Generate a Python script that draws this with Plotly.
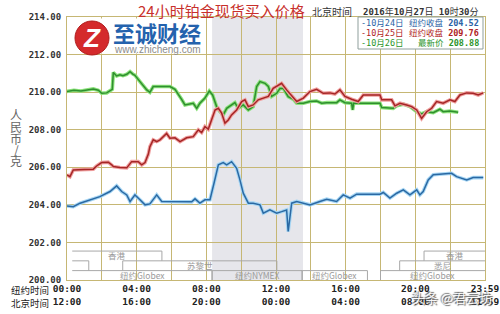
import plotly.graph_objects as go

# ---------------- data (NY time in hours, price in CNY/g) ----------------
blue_h = [0.00, 0.36, 0.75, 1.32, 1.89, 2.47, 2.85, 3.14, 3.43, 3.62, 3.90, 4.19, 4.48, 4.76, 5.15, 5.44,
          5.72, 6.09, 7.16, 7.35, 7.63, 7.92, 8.21, 8.44, 8.69, 8.97, 9.17, 9.45, 9.74, 9.93, 10.12, 10.41,
          10.69, 11.08, 11.27, 11.65, 12.04, 12.32, 12.61, 12.70, 12.90, 13.19, 13.95, 14.52, 14.91, 15.48,
          15.86, 16.25, 16.63, 17.97, 18.16, 18.54, 18.93, 19.31, 19.69, 20.08, 20.26, 20.45, 20.74, 21.03,
          21.60, 22.08, 22.37, 22.95, 23.32, 23.90]
blue_v = [203.94, 203.90, 204.09, 204.27, 204.44, 204.71, 205.01, 204.71, 204.53, 204.18, 204.53, 204.27,
          204.00, 204.05, 204.53, 204.18, 204.18, 204.16, 204.16, 204.32, 204.09, 204.27, 204.27, 205.15,
          206.13, 206.25, 206.13, 206.30, 205.95, 205.33, 204.62, 204.09, 204.09, 204.00, 203.56, 203.73,
          203.56, 203.64, 203.73, 202.58, 204.09, 204.18, 204.00, 204.18, 204.30, 204.18, 204.53, 204.36,
          204.57, 204.57, 204.66, 204.36, 204.62, 204.80, 204.53, 204.80, 204.53, 204.71, 205.33, 205.60,
          205.63, 205.68, 205.50, 205.33, 205.45, 205.45]

red_h = [0.00, 0.17, 0.36, 0.56, 1.00, 1.51, 1.70, 1.99, 2.37, 2.57, 2.66, 3.04, 3.43, 3.71, 4.09, 4.29,
         4.48, 4.67, 4.76, 4.95, 5.15, 5.34, 5.72, 5.91, 6.20, 6.49, 6.87, 7.25, 7.54, 7.73, 7.92, 8.11,
         8.31, 8.50, 8.69, 8.88, 9.07, 9.26, 9.45, 9.74, 10.03, 10.22, 10.41, 10.69, 10.98, 11.27, 11.56,
         11.84, 12.04, 12.13, 12.32, 12.61, 12.90, 13.19, 13.57, 13.95, 14.33, 14.71, 15.10, 15.38, 15.67,
         15.96, 16.34, 16.72, 17.01, 17.97, 18.07, 18.64, 18.83, 19.12, 19.50, 19.79, 20.08, 20.36, 20.65,
         20.94, 21.22, 21.60, 21.99, 22.27, 22.56, 22.95, 23.32, 23.61, 23.90]
red_v = [205.60, 205.50, 205.86, 205.86, 205.88, 205.90, 206.07, 206.25, 206.27, 206.13, 206.04, 205.99,
         205.97, 206.30, 206.30, 206.13, 206.25, 206.70, 207.10, 207.46, 207.37, 207.46, 207.80, 207.55,
         207.57, 207.37, 207.57, 207.63, 207.99, 207.85, 208.17, 208.03, 208.52, 209.05, 209.14, 208.88,
         208.35, 208.52, 208.79, 209.05, 209.50, 209.59, 209.23, 209.32, 209.59, 209.68, 209.77, 210.20,
         210.30, 210.38, 210.47, 210.12, 209.80, 209.50, 209.68, 210.03, 210.15, 209.94, 209.96, 209.90,
         210.12, 209.77, 209.62, 209.50, 209.85, 209.85, 209.59, 209.59, 209.27, 209.41, 209.32, 209.23,
         209.05, 208.60, 208.96, 209.14, 209.50, 209.41, 209.59, 209.50, 209.85, 209.96, 209.94, 209.85,
         209.96]

green_h = [0.00, 0.40, 0.80, 1.20, 1.51, 1.80, 1.99, 2.28, 2.47, 2.60, 2.66, 2.85, 3.04, 3.21, 3.43, 3.62,
           3.80, 3.90, 4.19, 4.40, 4.58, 4.76, 4.95, 5.34, 5.72, 5.91, 6.20, 6.37, 6.58, 6.77, 7.06, 7.25,
           7.45, 7.63, 7.92, 8.17, 8.36, 8.59, 8.78, 8.97, 9.17, 9.45, 9.64, 9.83, 10.12, 10.41, 10.69,
           10.89, 11.08, 11.37, 11.56, 11.75, 12.04, 12.23, 12.42, 12.70, 13.00, 13.19, 13.57, 13.95, 14.33,
           14.62, 14.91, 15.48, 15.67, 15.96, 16.34, 16.40, 16.46, 17.97, 18.07, 18.73, 18.93, 19.31, 19.69,
           20.08, 20.36, 20.65, 21.03, 21.41, 21.60, 21.99, 22.46]
green_v = [210.04, 210.10, 210.06, 210.14, 210.17, 210.10, 209.94, 209.96, 210.10, 210.15, 211.05, 210.86,
           210.92, 210.88, 210.95, 211.09, 210.95, 210.90, 210.56, 210.30, 210.12, 209.99, 210.30, 210.30,
           210.28, 210.30, 210.15, 209.94, 209.62, 209.32, 209.37, 209.41, 209.14, 209.41, 209.68, 210.06,
           209.85, 209.23, 208.96, 208.79, 209.14, 209.32, 209.44, 209.14, 209.32, 209.05, 209.23, 210.30,
           210.56, 210.47, 210.30, 209.77, 209.94, 210.20, 210.20, 209.76, 209.62, 209.41, 209.41, 209.50,
           209.53, 209.41, 209.44, 209.44, 209.59, 209.44, 209.41, 209.05, 209.41, 209.41, 209.18, 209.14,
           209.27, 209.36, 209.23, 208.96, 208.84, 208.96, 208.91, 209.09, 208.96, 208.99, 208.93]

ny_ticks = ["00:00", "", "04:00", "", "08:00", "", "12:00", "", "16:00", "", "20:00", "", "23:59"]
bj_ticks = ["12:00", "", "16:00", "", "20:00", "", "00:00", "", "04:00", "", "08:00", "", "11:59"]
y_ticks = [200, 202, 204, 206, 208, 210, 212, 214]

legend_dates = ["-10月24日", "-10月25日", "-10月26日"]
legend_kinds = ["纽约收盘", "纽约收盘", "最新价"]
legend_vals = ["204.52", "209.76", "208.88"]

nymex_start, nymex_end = 8.33, 13.55
# market sessions: name, start, end, band
sessions = [("香港", 0.3, 5.45, 0), ("", 0.3, 1.25, 1), ("苏黎世", 3.2, 12.05, 1),
            ("纽约Globex", 0.3, 8.33, 2), ("纽约NYMEX", 8.33, 13.5, 2), ("纽约Globex", 13.5, 17.25, 2),
            ("悉尼", 19.1, 24.0, 1), ("纽约Globex", 18.0, 24.0, 2), ("香港", 20.5, 24.0, 0)]

# ---------------- figure ----------------
L, R, T, B = 67, 485, 17, 280


def px(x):
    return (x - L) / (R - L)


def py(y):
    return (B - y) / (B - T)


def note(x, y, text, font, xanchor="center", yanchor="middle"):
    return dict(xref="paper", yref="paper", x=px(x), y=py(y), text=text, showarrow=False,
                xanchor=xanchor, yanchor=yanchor, font=font)


GRID = "#c6b774"
fig = go.Figure()

styles = [(blue_h, blue_v, "#a6d6f4", "#2b69a3"),
          (green_h, green_v, "#8be27a", "#2f8f2f"),
          (red_h, red_v, "#f0a0a0", "#a52626")]
for hx, vy, halo, core in styles:
    fig.add_trace(go.Scatter(x=hx, y=vy, mode="lines", line=dict(color=halo, width=3.6),
                             hoverinfo="skip", showlegend=False))
    fig.add_trace(go.Scatter(x=hx, y=vy, mode="lines", line=dict(color=core, width=1.5),
                             showlegend=False))

shapes = []
shapes.append(dict(type="rect", xref="x", yref="y", x0=nymex_start, x1=nymex_end, y0=200, y1=214,
                   fillcolor="#e6e6eb", line=dict(width=0), layer="below"))

band_top = [201.54, 201.02, 200.50]
band_bot = [201.02, 200.50, 200.0]
SES = "#a8a8a8"
annotations = []
for name, s0, s1, b in sessions:
    shapes.append(dict(type="line", xref="x", yref="y", x0=s0, x1=s1, y0=band_top[b], y1=band_top[b],
                       line=dict(color=SES, width=1)))
    if s0 > 0.35:
        shapes.append(dict(type="line", xref="x", yref="y", x0=s0, x1=s0, y0=band_top[b], y1=band_bot[b],
                           line=dict(color=SES, width=1)))
    if s1 < 23.9:
        shapes.append(dict(type="line", xref="x", yref="y", x0=s1, x1=s1, y0=band_top[b], y1=band_bot[b],
                           line=dict(color=SES, width=1)))
    if name:
        annotations.append(dict(xref="x", yref="y", x=(s0 + s1) / 2, y=band_top[b] - 0.22, text=name,
                                showarrow=False, xanchor="center", yanchor="middle",
                                font=dict(family="Noto Sans CJK SC", size=8.5, color="#9a9a9a")))

# logo backing + logo
shapes.append(dict(type="rect", xref="paper", yref="paper", x0=px(72), x1=px(204), y0=py(53.5), y1=py(18.5),
                   fillcolor="white", line=dict(width=0), layer="above"))
shapes.append(dict(type="circle", xref="paper", yref="paper", x0=px(75), x1=px(109), y0=py(55), y1=py(21),
                   fillcolor="#d42a2c", line=dict(color="#b01c1c", width=1), layer="above"))
annotations.append(note(92, 38, "<b><i>Z</i></b>", dict(family="Liberation Sans", size=26, color="white")))
annotations.append(note(157, 32, "<b>至诚财经</b>", dict(family="Noto Sans CJK SC", size=22, color="#2462ad")))
annotations.append(note(157, 49, "www.zhicheng.com", dict(family="Liberation Sans", size=10, color="#8c8c8c")))

# legend box
shapes.append(dict(type="rect", xref="paper", yref="paper", x0=px(358), x1=px(483), y0=py(49), y1=py(17),
                   fillcolor="white", line=dict(color="#8f9f9c", width=1), layer="above"))
row_y = [22.7, 33.3, 43.3]
row_col = ["#2b63a6", "#b02424", "#2a942a"]
LEGF = "DejaVu Sans Mono, Noto Sans CJK SC"
for i in range(3):
    annotations.append(note(359, row_y[i], legend_dates[i], dict(family=LEGF, size=8.5, color=row_col[i]),
                            xanchor="left"))
    annotations.append(note(481, row_y[i], legend_kinds[i] + " <b>" + legend_vals[i] + "</b>",
                            dict(family=LEGF, size=8.5, color=row_col[i]), xanchor="right"))

# title texts
annotations.append(note(221, 10.5, "24小时铂金现货买入价格",
                        dict(family="Noto Sans CJK SC", size=15, color="#c8302c")))
annotations.append(note(332, 11, "北京时间", dict(family="Noto Sans CJK SC", size=10, color="#333333")))
annotations.append(note(421, 11, "<b>2016</b>年<b>10</b>月<b>27</b>日 <b>10</b>时<b>30</b>分",
                        dict(family=LEGF, size=9, color="#333333")))

# y-axis title (stacked characters)
for ch, yy in zip("人民币/克", [114, 126.5, 138, 149, 160.5]):
    annotations.append(note(16, yy, ch, dict(family="Noto Sans CJK SC", size=12, color="#666666")))

# x-axis row titles
annotations.append(note(9, 289.5, "纽约时间", dict(family="Noto Sans CJK SC", size=9.5, color="#222222"),
                        xanchor="left"))
annotations.append(note(9, 302.5, "北京时间", dict(family="Noto Sans CJK SC", size=9.5, color="#222222"),
                        xanchor="left"))

# watermark
annotations.append(note(452, 297, "头条 @君云坊",
                        dict(family="Noto Sans CJK SC", size=13, color="rgba(255,255,255,0.92)",
                             shadow="1px 1px 1px #555, -1px -1px 1px #555")))

ticktext = [(a + "<br>" + b) if a else "" for a, b in zip(ny_ticks, bj_ticks)]

fig.update_layout(
    width=500, height=314,
    margin=dict(l=L, r=500 - R, t=T, b=314 - B),
    paper_bgcolor="white", plot_bgcolor="white",
    shapes=shapes, annotations=annotations,
    xaxis=dict(range=[0, 24], tickvals=list(range(0, 25, 2)), ticktext=ticktext, showgrid=True,
               gridcolor=GRID, gridwidth=1, zeroline=False, showline=True, mirror=True, linecolor=GRID,
               linewidth=1, ticks="", automargin=False,
               tickfont=dict(family="DejaVu Sans Mono", size=9.5, color="#222222", weight="bold"),
               fixedrange=True),
    yaxis=dict(range=[200, 214], tickvals=y_ticks, tickformat=".2f", showgrid=True, gridcolor=GRID, gridwidth=1,
               zeroline=False, showline=True, mirror=True, linecolor=GRID, linewidth=1, ticks="",
               ticklabelstandoff=3, automargin=False,
               tickfont=dict(family="DejaVu Sans Mono", size=9, color="#333333", weight="bold"), fixedrange=True),
    showlegend=False,
)

fig.write_html("out.html")
